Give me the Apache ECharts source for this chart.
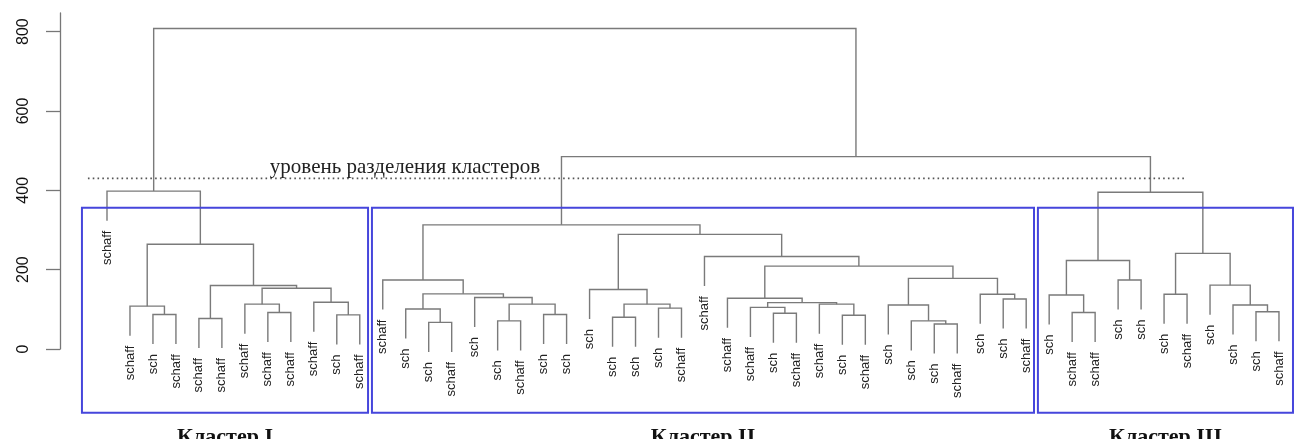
<!DOCTYPE html>
<html>
<head>
<meta charset="utf-8">
<script src="https://cdn.jsdelivr.net/npm/echarts@6/dist/echarts.min.js"></script>
<style>
html, body { margin: 0; padding: 0; background: #fff; }
#main { width: 1299px; height: 439px; }
</style>
</head>
<body>
<div id="main"></div>
<script>
// leaf labels, left to right (52 objects)
var leafLabels = [
    'schaff','schaff','sch','schaff','schaff','schaff','schaff','schaff','schaff','schaff','sch','schaff',
    'schaff','sch','sch','schaff','sch','sch','schaff','sch','sch','sch','sch','sch','sch','schaff',
    'schaff','schaff','schaff','sch','schaff','schaff','sch','schaff','sch','sch','sch','schaff','sch','sch','schaff',
    'sch','schaff','schaff','sch','sch','sch','schaff','sch','sch','sch','schaff'
];

// merges: [height, left, right], a plain number is a leaf index
var clusterI = [398, 0, [264, [108, 1, [87, 2, 3]],
    [160, [77, 4, 5], [153, [113, 6, [92, 7, 8]], [118, 9, [86, 10, 11]]]]]];

var clusterII = [313,
    [174, 12, [139, [101, 13, [67, 14, 15]], [130, 16, [113, [71, 17, 18], [87, 19, 20]]]]],
    [289,
        [150, 21, [113, [80, 22, 23], [103, 24, 25]]],
        [233, 26, [209,
            [128, 27, [117, [105, 28, [90, 29, 30]], [113, 31, [85, 32, 33]]]],
            [178, [111, 34, [71, 35, [63, 36, 37]]], [138, 38, [126, 39, 40]]]
        ]]
    ]
];

var clusterIII = [395, [223, [136, 41, [92, 42, 43]], [174, 44, 45]],
    [241, [138, 46, 47], [161, 48, [111, 49, [94, 50, 51]]]]];

var rootHeight = 808;
var heightIIandIII = 485;
var cutLevel = 430;
var cutLabel = 'уровень разделения кластеров';
var yTicks = [0, 200, 400, 600, 800];
var clusterNames = ['Кластер I', 'Кластер II', 'Кластер III'];

var tree = [rootHeight, clusterI, [heightIIandIII, clusterII, clusterIII]];
var hang = 74.5; // leaves hang 10% of height range below their merge

var segments = [];
var leaves = [];
function walk(node, parentH) {
    if (typeof node === 'number') {
        leaves.push([node, parentH - hang]);
        return { x: node, y: parentH - hang };
    }
    var a = walk(node[1], node[0]);
    var b = walk(node[2], node[0]);
    segments.push([a.x, a.y, b.x, b.y, node[0]]);
    return { x: (a.x + b.x) / 2, y: node[0] };
}
walk(tree, 0);

// blue frames round the clusters, in leaf units / y units
var boxSpan = [[-1.09, 11.36], [11.53, 40.34], [40.51, 51.61]];
var boxTop = 356, boxBottom = -161;

var myChart = echarts.init(document.getElementById('main'));
var option = {
    animation: false,
    grid: { left: 60, right: 9, top: 13, bottom: 90 },
    xAxis: { type: 'value', min: -2.045, max: 51.48, show: false },
    yAxis: {
        type: 'value',
        min: 0,
        max: 847,
        axisLine: { show: true, onZero: false, lineStyle: { color: '#777', width: 1.3 } },
        axisTick: { show: true, length: 14, lineStyle: { color: '#777', width: 1.3 }, customValues: yTicks },
        axisLabel: {
            rotate: 90, margin: 28, fontSize: 16, color: '#111',
            fontFamily: 'Liberation Sans', customValues: yTicks
        },
        splitLine: { show: false }
    },
    series: [
        {
            // dendrogram branches
            type: 'custom',
            clip: false,
            data: segments,
            renderItem: function (params, api) {
                var s = segments[params.dataIndex];
                var p1 = api.coord([s[0], s[1]]);
                var p2 = api.coord([s[0], s[4]]);
                var p3 = api.coord([s[2], s[4]]);
                var p4 = api.coord([s[2], s[3]]);
                return {
                    type: 'polyline',
                    shape: { points: [p1, p2, p3, p4] },
                    style: { stroke: '#7a7a7a', lineWidth: 1.4, fill: null }
                };
            }
        },
        {
            // leaf labels
            type: 'custom',
            clip: false,
            data: leaves,
            renderItem: function (params, api) {
                var l = leaves[params.dataIndex];
                var p = api.coord([l[0], l[1]]);
                return {
                    type: 'text',
                    x: p[0],
                    y: p[1] + 10,
                    rotation: Math.PI / 2,
                    style: {
                        text: leafLabels[l[0]],
                        align: 'right',
                        verticalAlign: 'middle',
                        fontSize: 13,
                        fontFamily: 'Liberation Sans',
                        fill: '#222'
                    }
                };
            }
        },
        {
            // cluster frames and names
            type: 'custom',
            clip: false,
            data: clusterNames,
            renderItem: function (params, api) {
                var b = boxSpan[params.dataIndex];
                var p1 = api.coord([b[0], boxTop]);
                var p2 = api.coord([b[1], boxBottom]);
                return {
                    type: 'group',
                    children: [
                        {
                            type: 'rect',
                            shape: { x: p1[0], y: p1[1], width: p2[0] - p1[0], height: p2[1] - p1[1] },
                            style: { stroke: '#4646dc', lineWidth: 2, fill: null }
                        },
                        {
                            type: 'text',
                            x: (p1[0] + p2[0]) / 2,
                            y: p2[1] + 13,
                            style: {
                                text: clusterNames[params.dataIndex],
                                align: 'center',
                                verticalAlign: 'top',
                                fontSize: 22,
                                fontWeight: 'bold',
                                fontFamily: 'Liberation Serif',
                                fill: '#111'
                            }
                        }
                    ]
                };
            }
        },
        {
            // cut level
            type: 'custom',
            clip: false,
            data: [cutLevel],
            renderItem: function (params, api) {
                var a = api.coord([-0.83, cutLevel]);
                var b = api.coord([46.91, cutLevel]);
                var t = api.coord([12.97, cutLevel]);
                return {
                    type: 'group',
                    children: [
                        {
                            type: 'line',
                            shape: { x1: a[0], y1: a[1], x2: b[0], y2: b[1] },
                            style: { stroke: '#555', lineWidth: 1.6, lineDash: [1.6, 3.2] }
                        },
                        {
                            type: 'text',
                            x: t[0],
                            y: t[1],
                            style: {
                                text: cutLabel,
                                align: 'center',
                                verticalAlign: 'bottom',
                                fontSize: 21,
                                fontFamily: 'Liberation Serif',
                                fill: '#222'
                            }
                        }
                    ]
                };
            }
        }
    ]
};
myChart.setOption(option);
</script>
</body>
</html>
